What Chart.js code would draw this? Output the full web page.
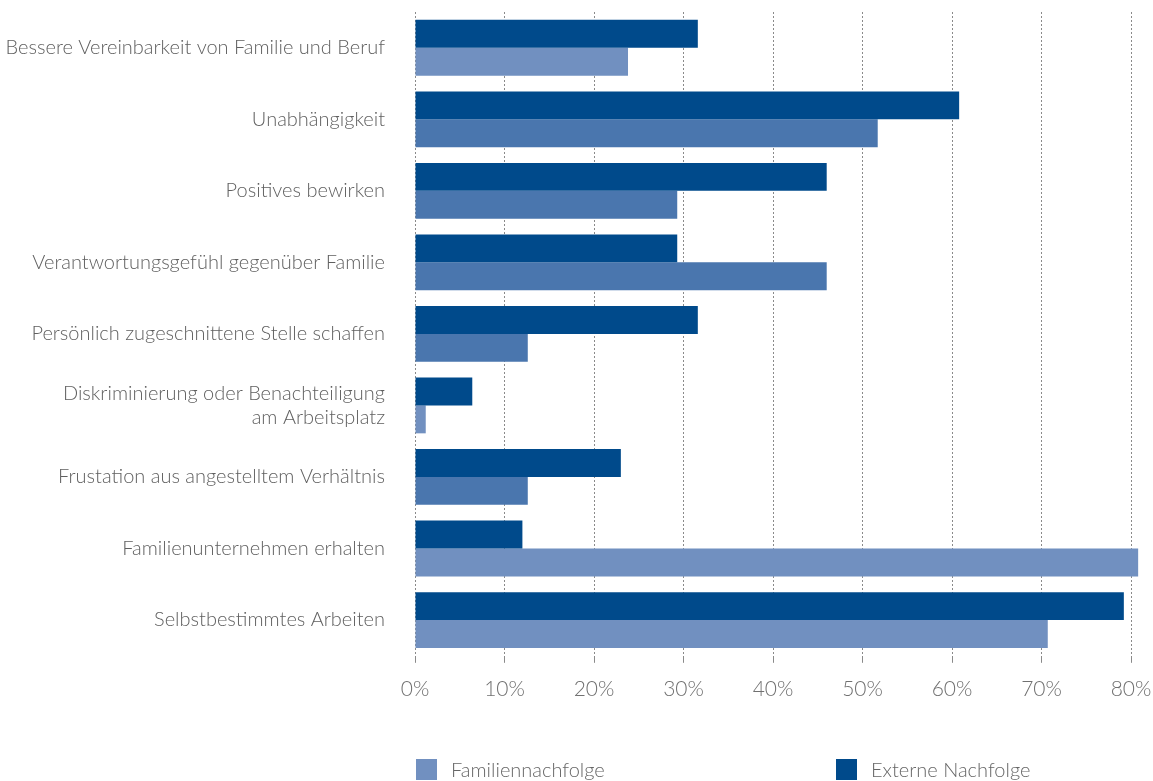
<!DOCTYPE html>
<html>
<head>
<meta charset="utf-8">
<script src="https://cdn.jsdelivr.net/npm/chart.js@4"></script>
<style>
  html, body { margin: 0; padding: 0; background: #fff; }
  #wrap { position: relative; width: 1153px; height: 781px; }
  #legend { position: absolute; left: 0; top: 759px; width: 1153px; height: 21px; }
  .item { position: absolute; top: 0; height: 21px; display: flex; align-items: center;
          font: 300 20px/21px Lato, sans-serif; color: #666; }
  .box { width: 21px; height: 21px; margin-right: 14px; }
</style>
</head>
<body>
<div id="wrap">
  <canvas id="chart" width="1153" height="781"></canvas>
  <div id="legend"></div>
</div>
<script>
const categories = [
  'Bessere Vereinbarkeit von Familie und Beruf',
  'Unabhängigkeit',
  'Positives bewirken',
  'Verantwortungsgefühl gegenüber Familie',
  'Persönlich zugeschnittene Stelle schaffen',
  ['Diskriminierung oder Benachteiligung', 'am Arbeitsplatz'],
  'Frustation aus angestelltem Verhältnis',
  'Familienunternehmen erhalten',
  'Selbstbestimmtes Arbeiten'
];
const externeNachfolge = [31.6, 60.8, 46.0, 29.3, 31.6, 6.4, 23.0, 12.0, 79.2];
const familiennachfolge = [23.8, 51.7, 29.3, 46.0, 12.6, 1.2, 12.6, 80.8, 70.7];
const xTicks = [0, 10, 20, 30, 40, 50, 60, 70, 80];

const darkBlue = '#004a8b';
const lightBlue = '#7190c0';
const midBlue = '#4a76ae';
const familyColors = [lightBlue, midBlue, midBlue, midBlue, midBlue, lightBlue, midBlue, lightBlue, lightBlue];

const ctx = document.getElementById('chart').getContext('2d');

new Chart(ctx, {
  type: 'bar',
  data: {
    labels: categories,
    datasets: [
      {
        label: 'Externe Nachfolge',
        data: externeNachfolge,
        backgroundColor: darkBlue,
        clip: false
      },
      {
        label: 'Familiennachfolge',
        data: familiennachfolge,
        backgroundColor: familyColors,
        clip: false
      }
    ]
  },
  options: {
    indexAxis: 'y',
    responsive: false,
    animation: false,
    layout: { padding: { top: 12, right: 22, bottom: 65, left: 0 } },
    datasets: {
      bar: { categoryPercentage: 0.78, barPercentage: 1 }
    },
    plugins: {
      legend: { display: false },
      tooltip: { enabled: false }
    },
    scales: {
      x: {
        min: 0,
        max: 80,
        afterBuildTicks: function (scale) {
          scale.ticks = xTicks.map(v => ({ value: v }));
        },
        afterFit: function (scale) {
          // keep the tick labels from pushing the plot edges inward
          scale.paddingLeft = 0;
          scale.paddingRight = 0;
        },
        grid: { color: '#8a8a8a', lineWidth: 1, tickLength: 7 },
        border: { display: false, dash: [2, 2] },
        ticks: {
          padding: 14,
          color: '#707070',
          font: { family: 'Lato', size: 21, weight: 300 },
          callback: function (value) { return value + '%'; }
        }
      },
      y: {
        grid: { display: false, drawTicks: false },
        border: { display: false },
        afterFit: function (scale) {
          scale.width = 415;
          scale.paddingTop = 0;
          scale.paddingBottom = 0;
        },
        ticks: {
          padding: 30,
          color: '#606060',
          font: { family: 'Lato', size: 20, weight: 300, lineHeight: 1.2 }
        }
      }
    }
  }
});

// legend: Familiennachfolge left, Externe Nachfolge right
const legendItems = [
  { text: 'Familiennachfolge', color: lightBlue, left: 416 },
  { text: 'Externe Nachfolge', color: darkBlue, left: 836 }
];
const legend = document.getElementById('legend');
legendItems.forEach(function (it) {
  const el = document.createElement('div');
  el.className = 'item';
  el.style.left = it.left + 'px';
  el.innerHTML = '<span class="box" style="background:' + it.color + '"></span>' + it.text;
  legend.appendChild(el);
});
</script>
</body>
</html>
